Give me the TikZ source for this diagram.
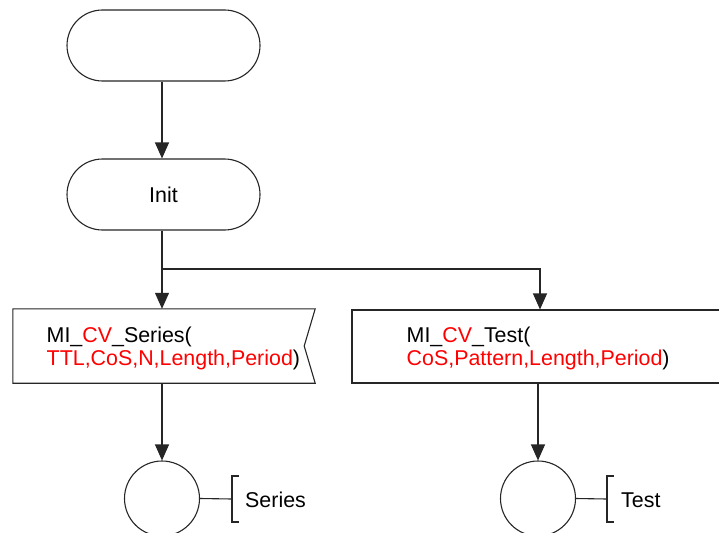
\documentclass[tikz,border=0pt]{standalone}
\usepackage{fontspec}
\setmainfont{Liberation Sans}
\usetikzlibrary{arrows.meta,shapes.misc}
\begin{document}
\begin{tikzpicture}[x=1pt,y=-1pt,
  line/.style={line width=1.1pt, draw=black!85},
  arr/.style={line, -{Triangle[width=14pt,length=16pt]}},
  txt/.style={font=\fontsize{21.4}{23}\selectfont, inner sep=0pt},
  term/.style={line, rounded rectangle, minimum width=193pt, minimum height=71pt, inner sep=0pt},
  frame/.style={minimum width=302pt, minimum height=74pt, inner sep=0pt},
  procbox/.style={line, minimum width=388pt, minimum height=73pt, inner sep=0pt},
  endc/.style={line, circle, minimum size=75pt, inner sep=0pt}
]
\useasboundingbox[fill=white] (0,0) rectangle (719,532);

% terminators
\node[term] (start) at (163.5,45.5) {};
\node[term, txt] (init) at (163.5,194.5) {Init};

% left process box (notched right edge)
\node[frame] (b1) at (164,346) {};
\draw[line] (b1.north west) -- (b1.north east) -- ([xshift=-11pt]b1.east) -- (b1.south east) -- (b1.south west) -- cycle;
\node[txt, anchor=west, align=left] (t1) at (46.5,348)
  {MI\_\textcolor{red}{CV}\_Series(\\\textcolor{red}{TTL,CoS,N,Length,Period})};

% right process box
\node[procbox] (b2) at (546,346.5) {};
\node[txt, anchor=west, align=left] (t2) at (406.5,348)
  {MI\_\textcolor{red}{CV}\_Test(\\\textcolor{red}{CoS,Pattern,Length,Period})};

% end circles
\node[endc] (c1) at (162,498.5) {};
\node[endc] (c2) at (538,498.5) {};

% connectors
\draw[arr] (start.south -| 162,0) -- (162,0 |- init.north);
\coordinate (br) at (162,269);
\coordinate (j2) at (540,269);
\draw[arr] (162,0 |- init.south) -- (162,0 |- b1.north);
\draw[arr] (br) -- (j2) -- (j2 |- b2.north);
\draw[arr] (162,0 |- b1.south) -- (c1.north);
\draw[arr] (c2.north |- b2.south) -- (c2.north);

% annotation brackets
\coordinate (k1) at (232,499);
\coordinate (k2) at (607,499);
\draw[line] (c1.east) -- (k1);
\draw[line] ([xshift=7pt,yshift=23pt]k1) -- ([yshift=23pt]k1) -- ([yshift=-23pt]k1) -- ([xshift=7pt,yshift=-23pt]k1);
\node[txt, anchor=west] (s1) at (245,500) {Series};
\draw[line] (c2.east) -- (k2);
\draw[line] ([xshift=7pt,yshift=23pt]k2) -- ([yshift=23pt]k2) -- ([yshift=-23pt]k2) -- ([xshift=7pt,yshift=-23pt]k2);
\node[txt, anchor=west] (s2) at (621,500) {Test};
\end{tikzpicture}
\end{document}
